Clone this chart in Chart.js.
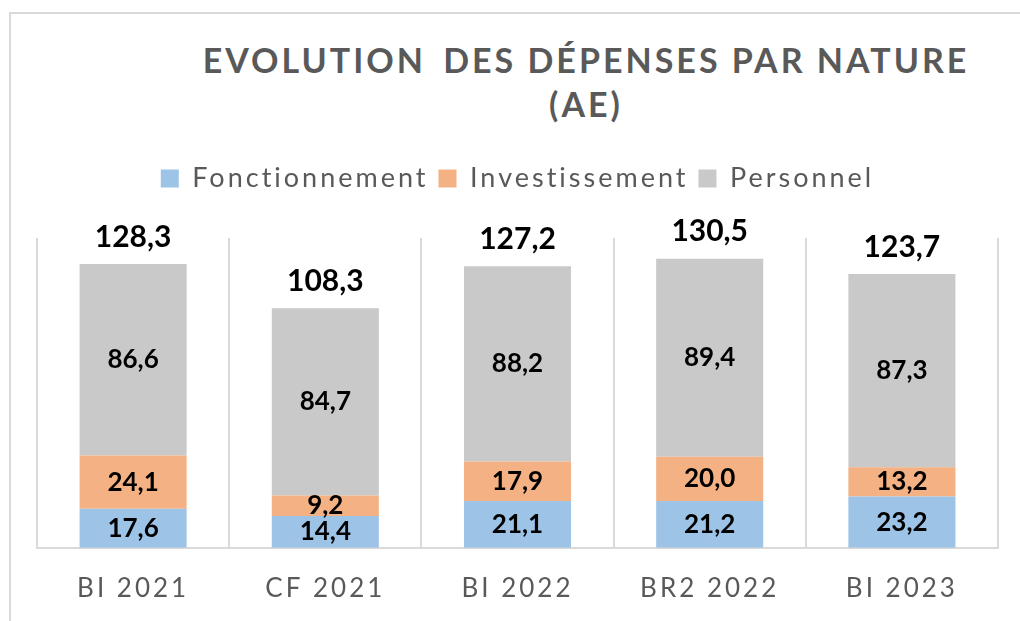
<!DOCTYPE html>
<html>
<head>
<meta charset="utf-8">
<script src="https://cdn.jsdelivr.net/npm/chart.js@4/dist/chart.umd.min.js"></script>
<style>
  html, body { margin: 0; padding: 0; background: #fff; overflow: hidden; }
  #wrap { position: relative; width: 1020px; height: 621px; }
  #frame { position: absolute; left: 9px; top: 12px; width: 1100px; height: 700px; border: 2px solid #d9d9d9; box-sizing: border-box; }
  #title { position: absolute; left: 186px; top: 38px; width: 800px; text-align: center;
    font-family: Lato, sans-serif; font-weight: 700; font-size: 34px; line-height: 44px;
    letter-spacing: 3px; color: #595959; }
  #title .gap { margin-left: 6px; }
  canvas { position: absolute; left: 0; top: 0; }
</style>
</head>
<body>
<div id="wrap">
  <div id="frame"></div>
  <div id="title">EVOLUTION <span class="gap">DES</span> DÉPENSES PAR NATURE<br>(AE)</div>
  <canvas id="chart" width="1020" height="621"></canvas>
</div>
<script>
const categories = ['BI 2021', 'CF 2021', 'BI 2022', 'BR2 2022', 'BI 2023'];
const fonctionnement = [17.6, 14.4, 21.1, 21.2, 23.2];
const investissement = [24.1, 9.2, 17.9, 20.0, 13.2];
const personnel = [86.6, 84.7, 88.2, 89.4, 87.3];
const totals = [128.3, 108.3, 127.2, 130.5, 123.7];

const fmt = v => v.toFixed(1).replace('.', ',');

// letter spacing for the legend and axis labels (canvas resets it on resize)
const spacing = {
  id: 'spacing',
  beforeLayout(chart) { chart.ctx.letterSpacing = '3px'; },
  beforeDraw(chart) { chart.ctx.letterSpacing = '3px'; },
  afterInit(chart) {
    const fit = chart.legend.fit;
    chart.legend.fit = function () {
      fit.call(this);
      this.height = 83;
    };
  }
};

const valueLabels = {
  id: 'valueLabels',
  afterDatasetsDraw(chart) {
    const ctx = chart.ctx;
    ctx.save();
    ctx.letterSpacing = '0px';
    ctx.fillStyle = '#000';
    ctx.textAlign = 'center';
    ctx.textBaseline = 'middle';
    ctx.font = 'bold 26px Lato';
    chart.data.datasets.forEach((ds, di) => {
      chart.getDatasetMeta(di).data.forEach((bar, i) => {
        ctx.fillText(fmt(ds.data[i]), bar.x, (bar.y + bar.base) / 2);
      });
    });
    ctx.font = 'bold 30px Lato';
    const top = chart.getDatasetMeta(chart.data.datasets.length - 1).data;
    top.forEach((bar, i) => {
      ctx.fillText(fmt(totals[i]), bar.x, bar.y - 27);
    });
    ctx.restore();
  }
};

new Chart(document.getElementById('chart'), {
  type: 'bar',
  data: {
    labels: categories,
    datasets: [
      { label: 'Fonctionnement', data: fonctionnement, backgroundColor: '#9dc3e6' },
      { label: 'Investissement', data: investissement, backgroundColor: '#f4b183' },
      { label: 'Personnel', data: personnel, backgroundColor: '#c9c9c9' }
    ]
  },
  options: {
    responsive: false,
    animation: false,
    datasets: {
      bar: { barPercentage: 0.557, categoryPercentage: 1, borderWidth: 0 }
    },
    layout: { padding: { top: 155, left: 37, right: 22, bottom: -8 } },
    plugins: {
      title: { display: false },
      tooltip: { enabled: false },
      legend: {
        position: 'top',
        labels: {
          boxWidth: 18,
          boxHeight: 18,
          padding: 10,
          color: '#595959',
          font: { family: 'Lato', size: 27 }
        }
      }
    },
    scales: {
      x: {
        stacked: true,
        grid: { color: '#d9d9d9', lineWidth: 2, drawTicks: false },
        border: { color: '#d9d9d9', width: 2 },
        ticks: {
          color: '#595959',
          padding: 25,
          maxRotation: 0,
          font: { family: 'Lato', size: 26 }
        }
      },
      y: {
        stacked: true,
        display: false,
        min: 0,
        max: 140
      }
    }
  },
  plugins: [spacing, valueLabels]
});
</script>
</body>
</html>
